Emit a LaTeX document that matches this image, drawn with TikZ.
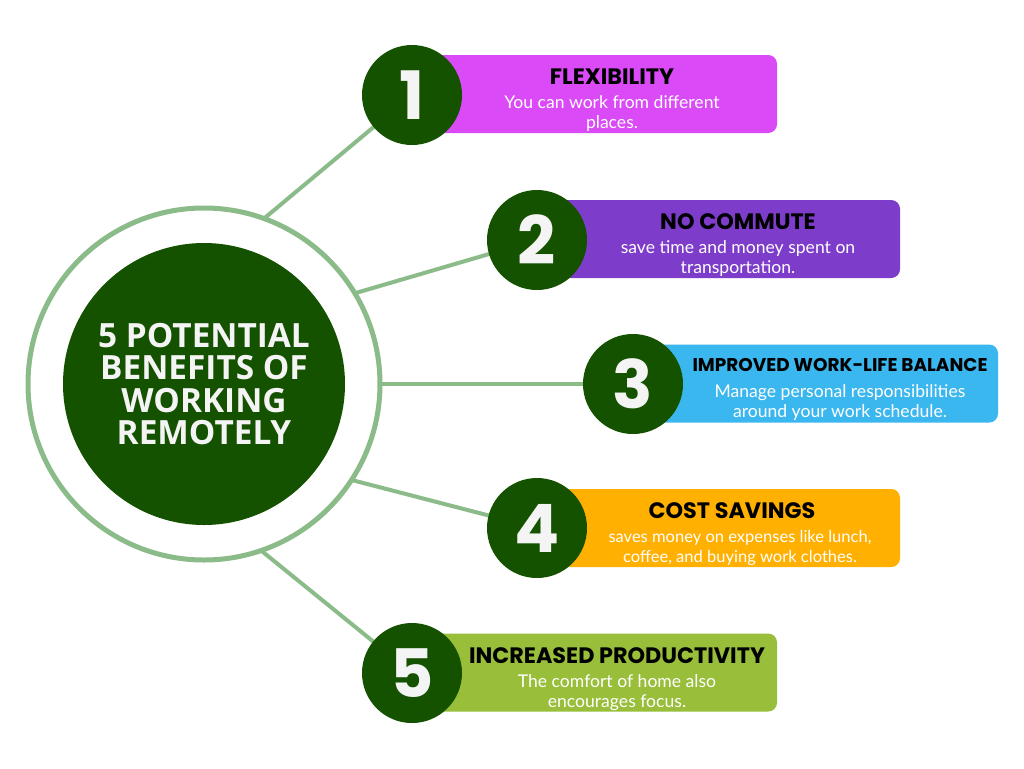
\documentclass[tikz,border=0pt]{standalone}
\usepackage{fontspec}
\setmainfont{Lato}
\newfontfamily\headfont{Poppins}
\newfontfamily\centerfont{Open Sans}
\usepackage{tikz}

\definecolor{ringgreen}{HTML}{8CBB8A}
\definecolor{darkgreen}{HTML}{145200}
\definecolor{boxone}{HTML}{DA4AF6}
\definecolor{boxtwo}{HTML}{7D3CC9}
\definecolor{boxthree}{HTML}{3BB7EF}
\definecolor{boxfour}{HTML}{FFB000}
\definecolor{boxfive}{HTML}{98BE3A}
\definecolor{softwhite}{HTML}{F4F4F4}

\tikzset{
  numcircle/.style={circle,fill=darkgreen,minimum size=100*0.02cm,inner sep=0pt,
    text=softwhite,font=\headfont\bfseries\fontsize{38}{38}\selectfont},
  card/.style={rectangle,rounded corners=5pt,minimum height=78*0.02cm,inner sep=0pt},
  cardtitle/.style={font=\headfont\bfseries\fontsize{12.7}{13}\selectfont,text=black},
  carddesc/.style={font=\fontsize{10}{11.4}\selectfont,text=white,align=center},
  link/.style={draw=ringgreen,line width=4*0.02cm}
}

\begin{document}
\begin{tikzpicture}[x=0.02cm,y=-0.02cm]
\useasboundingbox[fill=white] (0,0) rectangle (1024,768);

\node[card,fill=boxone,minimum width=347*0.02cm] (b1) at (603.5,94) {};
\node[card,fill=boxtwo,minimum width=345*0.02cm] (b2) at (727.5,239) {};
\node[card,fill=boxthree,minimum width=348*0.02cm] (b3) at (824,383.5) {};
\node[card,fill=boxfour,minimum width=345*0.02cm] (b4) at (727.5,528) {};
\node[card,fill=boxfive,minimum width=347*0.02cm] (b5) at (603.5,672.5) {};

\node[circle,minimum size=352*0.02cm,inner sep=0pt] (ring) at (204,384) {};
\draw[link] (ring.70) -- (412,95) coordinate (c1);
\draw[link] (ring.31) -- (537,240) coordinate (c2);
\draw[link] (ring.0) -- (633,384) coordinate (c3);
\draw[link] (ring.-33) -- (537,528) coordinate (c4);
\draw[link] (ring.-71) -- (412,673) coordinate (c5);
\draw[ringgreen,line width=5*0.02cm] (ring.center) circle (176);
\node[circle,fill=darkgreen,minimum size=282*0.02cm,inner sep=0pt,
  text=softwhite,align=center,font=\centerfont\bfseries\fontsize{19}{18.4}\selectfont] (hub) at (ring.center)
  {5 POTENTIAL\\BENEFITS OF\\WORKING\\REMOTELY};

\node[numcircle] (n1) at (c1) {1};
\node[numcircle] (n2) at (c2) {2};
\node[numcircle] (n3) at (c3) {3};
\node[numcircle] (n4) at (c4) {4};
\node[numcircle] (n5) at (c5) {5};

\node[cardtitle] (t1) at (612,77) {FLEXIBILITY};
\node[carddesc] (d1) at (612,114) {You can work from different\\places.};
\node[cardtitle] (t2) at (738,222) {NO COMMUTE};
\node[carddesc] (d2) at (738,259) {save time and money spent on\\transportation.};
\node[cardtitle,font=\headfont\bfseries\fontsize{10.5}{11}\selectfont] (t3) at (840,365) {IMPROVED WORK-LIFE BALANCE};
\node[carddesc] (d3) at (840,403) {Manage personal responsibilities\\around your work schedule.};
\node[cardtitle] (t4) at (732,511) {COST SAVINGS};
\node[carddesc,font=\fontsize{9.4}{11.4}\selectfont] (d4) at (740,548) {saves money on expenses like lunch,\\coffee, and buying work clothes.};
\node[cardtitle] (t5) at (617,656) {INCREASED PRODUCTIVITY};
\node[carddesc] (d5) at (617,693) {The comfort of home also\\encourages focus.};
\end{tikzpicture}
\end{document}
